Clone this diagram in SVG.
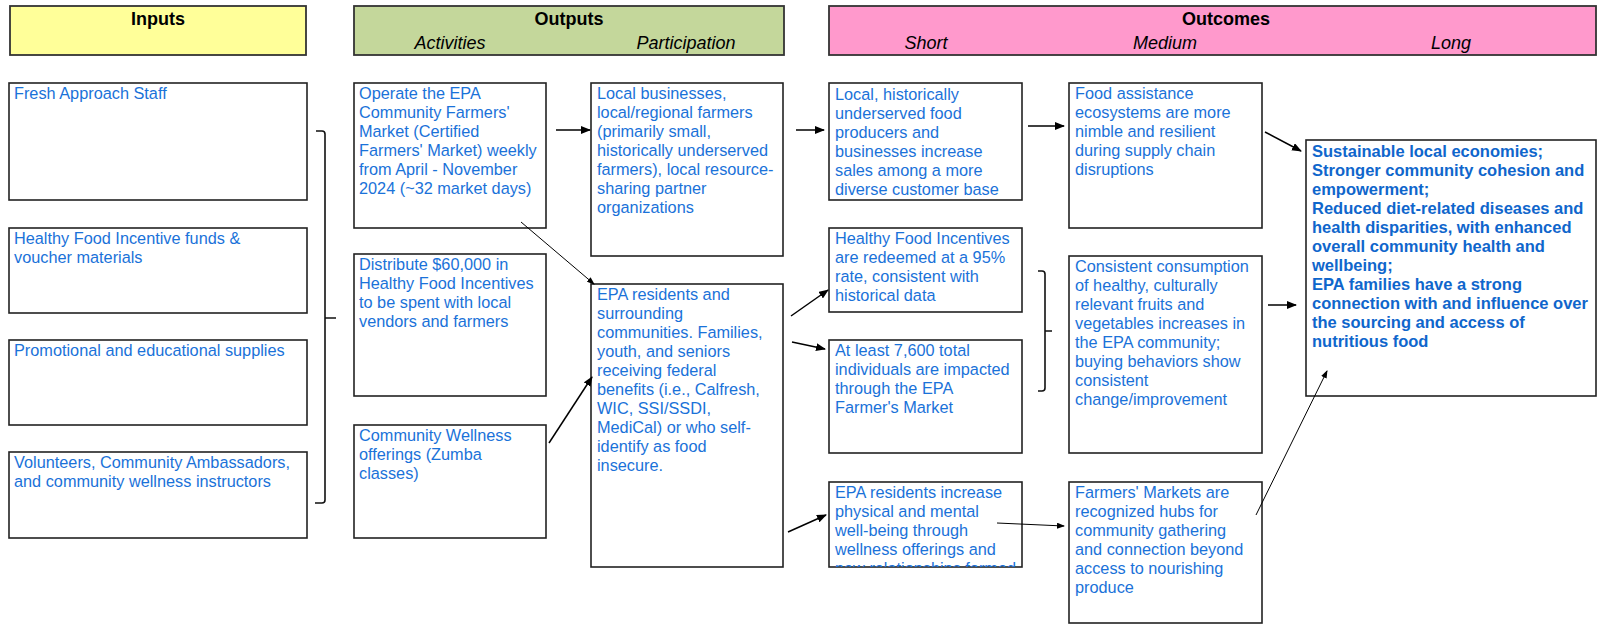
<svg xmlns="http://www.w3.org/2000/svg" width="1601" height="625" viewBox="0 0 1601 625">
<style>
.bg{fill:#fff}
.box{fill:#fff;stroke:#222;stroke-width:1.6}
.hdr{stroke:#333;stroke-width:1.8}
.t{font-family:"Liberation Sans",Arial,sans-serif;font-size:16.3px;fill:#1a72d9}
.b{font-weight:bold;font-size:16.5px;fill:#0f66cc}
.h{font-family:"Liberation Sans",Arial,sans-serif;font-size:18px;fill:#000;text-anchor:middle}
.hb{font-weight:bold}
.hi{font-style:italic}
.c{stroke:#000;stroke-width:1.5;fill:none}
.thin{stroke-width:1}
.br{stroke:#111;stroke-width:1.6;fill:none}
</style>
<defs>
<marker id="ah" markerUnits="userSpaceOnUse" markerWidth="10" markerHeight="8" refX="9" refY="4" orient="auto"><path d="M0,0 L10,4 L0,8 z" fill="#000"/></marker>
<marker id="ahs" markerUnits="userSpaceOnUse" markerWidth="8" markerHeight="6" refX="7" refY="3" orient="auto"><path d="M0,0 L8,3 L0,6 z" fill="#000"/></marker>
<clipPath id="clipEPA"><rect x="829" y="482" width="193" height="85"/></clipPath>
</defs>
<rect class="bg" x="0" y="0" width="1601" height="625"/>

<g id="header-inputs">
<rect class="hdr" x="10" y="6" width="296" height="49" fill="#ffff99"/>
<text class="h hb" x="158" y="25">Inputs</text>
</g>
<g id="header-outputs">
<rect class="hdr" x="354" y="6" width="430" height="49" fill="#c4d79b"/>
<text class="h hb" x="569" y="25">Outputs</text>
<text class="h hi" x="450" y="49">Activities</text>
<text class="h hi" x="686" y="49">Participation</text>
</g>
<g id="header-outcomes">
<rect class="hdr" x="829" y="6" width="767" height="49" fill="#ff99cc"/>
<text class="h hb" x="1226" y="25">Outcomes</text>
<text class="h hi" x="926" y="49">Short</text>
<text class="h hi" x="1165" y="49">Medium</text>
<text class="h hi" x="1451" y="49">Long</text>
</g>

<g id="in-staff">
<rect class="box" x="9" y="83" width="298" height="117"/>
<text class="t" x="14" y="99">Fresh Approach Staff</text>
</g>
<g id="in-hfi">
<rect class="box" x="9" y="228" width="298" height="85"/>
<text class="t" x="14" y="244"><tspan x="14">Healthy Food Incentive funds &amp;</tspan><tspan x="14" dy="19">voucher materials</tspan></text>
</g>
<g id="in-promo">
<rect class="box" x="9" y="340" width="298" height="85"/>
<text class="t" x="14" y="356">Promotional and educational supplies</text>
</g>
<g id="in-volunteers">
<rect class="box" x="9" y="452" width="298" height="86"/>
<text class="t" x="14" y="468"><tspan x="14">Volunteers, Community Ambassadors,</tspan><tspan x="14" dy="19">and community wellness instructors</tspan></text>
</g>

<g id="act-operate">
<rect class="box" x="354" y="83" width="192" height="145"/>
<text class="t" y="99"><tspan x="359">Operate the EPA</tspan><tspan x="359" dy="19">Community Farmers'</tspan><tspan x="359" dy="19">Market (Certified</tspan><tspan x="359" dy="19">Farmers' Market) weekly</tspan><tspan x="359" dy="19">from April - November</tspan><tspan x="359" dy="19">2024 (~32 market days)</tspan></text>
</g>
<g id="act-distribute">
<rect class="box" x="354" y="254" width="192" height="142"/>
<text class="t" y="270"><tspan x="359">Distribute $60,000 in</tspan><tspan x="359" dy="19">Healthy Food Incentives</tspan><tspan x="359" dy="19">to be spent with local</tspan><tspan x="359" dy="19">vendors and farmers</tspan></text>
</g>
<g id="act-wellness">
<rect class="box" x="354" y="425" width="192" height="113"/>
<text class="t" y="441"><tspan x="359">Community Wellness</tspan><tspan x="359" dy="19">offerings (Zumba</tspan><tspan x="359" dy="19">classes)</tspan></text>
</g>

<g id="par-businesses">
<rect class="box" x="591" y="83" width="192" height="173"/>
<text class="t" y="99"><tspan x="597">Local businesses,</tspan><tspan x="597" dy="19">local/regional farmers</tspan><tspan x="597" dy="19">(primarily small,</tspan><tspan x="597" dy="19">historically underserved</tspan><tspan x="597" dy="19">farmers), local resource-</tspan><tspan x="597" dy="19">sharing partner</tspan><tspan x="597" dy="19">organizations</tspan></text>
</g>
<g id="par-residents">
<rect class="box" x="591" y="284" width="192" height="283"/>
<text class="t" y="300"><tspan x="597">EPA residents and</tspan><tspan x="597" dy="19">surrounding</tspan><tspan x="597" dy="19">communities. Families,</tspan><tspan x="597" dy="19">youth, and seniors</tspan><tspan x="597" dy="19">receiving federal</tspan><tspan x="597" dy="19">benefits (i.e., Calfresh,</tspan><tspan x="597" dy="19">WIC, SSI/SSDI,</tspan><tspan x="597" dy="19">MediCal) or who self-</tspan><tspan x="597" dy="19">identify as food</tspan><tspan x="597" dy="19">insecure.</tspan></text>
</g>

<g id="short-sales">
<rect class="box" x="829" y="83" width="193" height="117"/>
<text class="t" y="100"><tspan x="835">Local, historically</tspan><tspan x="835" dy="19">underserved food</tspan><tspan x="835" dy="19">producers and</tspan><tspan x="835" dy="19">businesses increase</tspan><tspan x="835" dy="19">sales among a more</tspan><tspan x="835" dy="19">diverse customer base</tspan></text>
</g>
<g id="short-redeemed">
<rect class="box" x="829" y="228" width="193" height="84"/>
<text class="t" y="244"><tspan x="835">Healthy Food Incentives</tspan><tspan x="835" dy="19">are redeemed at a 95%</tspan><tspan x="835" dy="19">rate, consistent with</tspan><tspan x="835" dy="19">historical data</tspan></text>
</g>
<g id="short-impacted">
<rect class="box" x="829" y="340" width="193" height="113"/>
<text class="t" y="356"><tspan x="835">At least 7,600 total</tspan><tspan x="835" dy="19">individuals are impacted</tspan><tspan x="835" dy="19">through the EPA</tspan><tspan x="835" dy="19">Farmer's Market</tspan></text>
</g>
<g id="short-wellbeing">
<rect class="box" x="829" y="482" width="193" height="85"/>
<text class="t" y="498" clip-path="url(#clipEPA)"><tspan x="835">EPA residents increase</tspan><tspan x="835" dy="19">physical and mental</tspan><tspan x="835" dy="19">well-being through</tspan><tspan x="835" dy="19">wellness offerings and</tspan><tspan x="835" dy="19">new relationships formed</tspan></text>
</g>

<g id="med-ecosystems">
<rect class="box" x="1069" y="83" width="193" height="145"/>
<text class="t" y="99"><tspan x="1075">Food assistance</tspan><tspan x="1075" dy="19">ecosystems are more</tspan><tspan x="1075" dy="19">nimble and resilient</tspan><tspan x="1075" dy="19">during supply chain</tspan><tspan x="1075" dy="19">disruptions</tspan></text>
</g>
<g id="med-consumption">
<rect class="box" x="1069" y="256" width="193" height="197"/>
<text class="t" y="272"><tspan x="1075">Consistent consumption</tspan><tspan x="1075" dy="19">of healthy, culturally</tspan><tspan x="1075" dy="19">relevant fruits and</tspan><tspan x="1075" dy="19">vegetables increases in</tspan><tspan x="1075" dy="19">the EPA community;</tspan><tspan x="1075" dy="19">buying behaviors show</tspan><tspan x="1075" dy="19">consistent</tspan><tspan x="1075" dy="19">change/improvement</tspan></text>
</g>
<g id="med-hubs">
<rect class="box" x="1069" y="482" width="193" height="141"/>
<text class="t" y="498"><tspan x="1075">Farmers' Markets are</tspan><tspan x="1075" dy="19">recognized hubs for</tspan><tspan x="1075" dy="19">community gathering</tspan><tspan x="1075" dy="19">and connection beyond</tspan><tspan x="1075" dy="19">access to nourishing</tspan><tspan x="1075" dy="19">produce</tspan></text>
</g>

<g id="long-outcomes">
<rect class="box" x="1306" y="140" width="290" height="256"/>
<text class="t b" y="157"><tspan x="1312">Sustainable local economies;</tspan><tspan x="1312" dy="19">Stronger community cohesion and</tspan><tspan x="1312" dy="19">empowerment;</tspan><tspan x="1312" dy="19">Reduced diet-related diseases and</tspan><tspan x="1312" dy="19">health disparities, with enhanced</tspan><tspan x="1312" dy="19">overall community health and</tspan><tspan x="1312" dy="19">wellbeing;</tspan><tspan x="1312" dy="19">EPA families have a strong</tspan><tspan x="1312" dy="19">connection with and influence over</tspan><tspan x="1312" dy="19">the sourcing and access of</tspan><tspan x="1312" dy="19">nutritious food</tspan></text>
</g>

<g id="connectors">
<path class="br" d="M316,131 H322 Q325,131 325,134 V500 Q325,503 322,503 H315 M325,318 H336"/>
<path class="br" d="M1038,271 H1042 Q1045,271 1045,274 V388 Q1045,391 1042,391 H1038 M1045,331 H1052"/>
<line class="c" x1="556" y1="130" x2="590" y2="130" marker-end="url(#ah)"/>
<line class="c thin" x1="521" y1="222" x2="594" y2="284" marker-end="url(#ahs)"/>
<line class="c" x1="549" y1="443" x2="592" y2="377" marker-end="url(#ah)"/>
<line class="c" x1="796" y1="130" x2="824" y2="130" marker-end="url(#ah)"/>
<line class="c" x1="791" y1="316" x2="828" y2="290" marker-end="url(#ah)"/>
<line class="c" x1="792" y1="342" x2="825" y2="349" marker-end="url(#ah)"/>
<line class="c" x1="788" y1="532" x2="826" y2="515" marker-end="url(#ah)"/>
<line class="c" x1="1028" y1="126" x2="1064" y2="126" marker-end="url(#ah)"/>
<line class="c" x1="1265" y1="132" x2="1301" y2="151" marker-end="url(#ah)"/>
<line class="c" x1="1268" y1="305" x2="1296" y2="305" marker-end="url(#ah)"/>
<line class="c thin" x1="1256" y1="515" x2="1327" y2="371" marker-end="url(#ahs)"/>
<line class="c thin" x1="997" y1="523" x2="1064" y2="526" marker-end="url(#ahs)"/>
</g>
</svg>
